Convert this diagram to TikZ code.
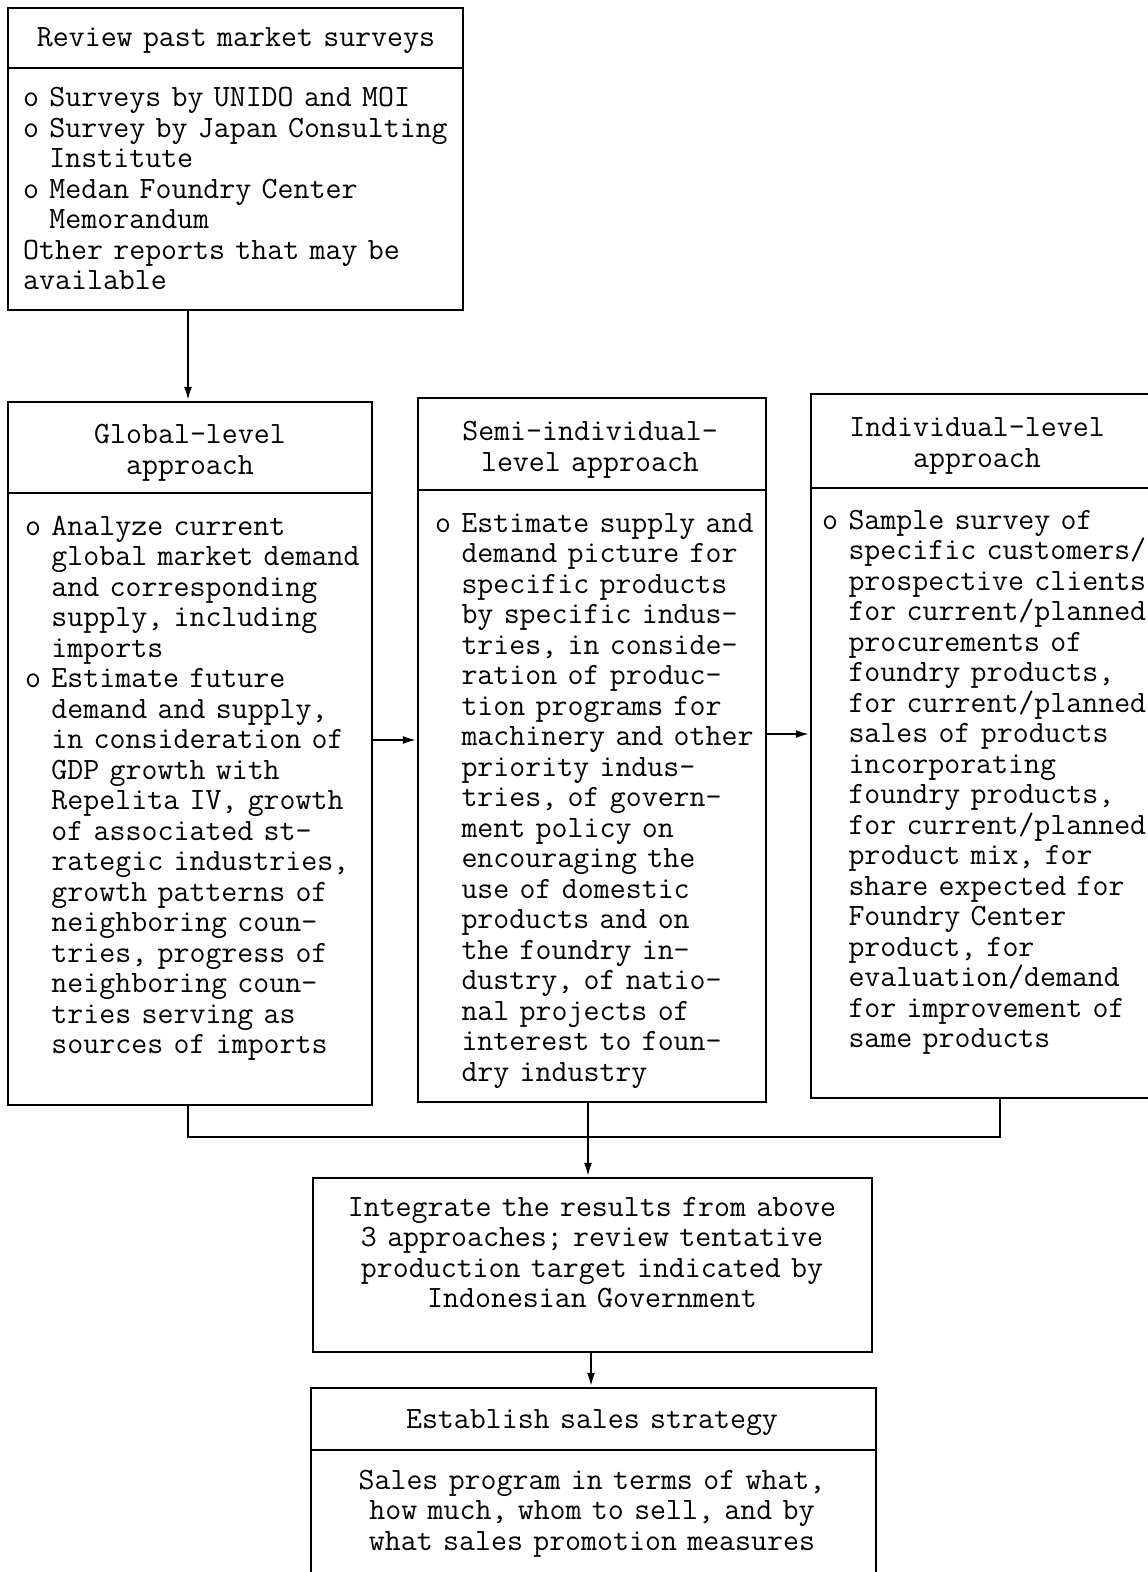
\documentclass[tikz,border=0pt]{standalone}
\usetikzlibrary{arrows.meta,fit}
\begin{document}
\begin{tikzpicture}[x=0.5pt,y=-0.5pt,line width=1.2pt,
  box/.style={draw,rectangle,inner sep=0pt,line width=1.2pt},
  arr/.style={-{Latex[length=7pt,width=4pt]}},
  tt/.style={font=\fontsize{15.5}{15.25}\selectfont\ttfamily,inner sep=0pt},
  body/.style={tt,align=left,text width=#1,anchor=base west},
  head/.style={tt,align=center,text width=#1,anchor=base}]
\fill[white] (0,0) rectangle (1147,1572);
\useasboundingbox (0,0) rectangle (1147,1572);
% boxes
\node[box,fit={(8,8) (463,310)}] (rev) {};
\node[box,fit={(8,402) (372,1105)}] (glob) {};
\node[box,fit={(418,398) (766,1102)}] (semi) {};
\node[box,fit={(811,394) (1165,1098)}] (indiv) {};
\node[box,fit={(313,1178) (872,1352)}] (integ) {};
\node[box,fit={(311,1388) (876,1600)}] (estab) {};
% dividers
\coordinate (d1) at (0,68);
\coordinate (d2) at (0,493);
\coordinate (d3) at (0,490);
\coordinate (d4) at (0,488);
\coordinate (d5) at (0,1450);
\draw (rev.west |- d1) -- (rev.east |- d1);
\draw (glob.west |- d2) -- (glob.east |- d2);
\draw (semi.west |- d3) -- (semi.east |- d3);
\draw (indiv.west |- d4) -- (indiv.east |- d4);
\draw (estab.west |- d5) -- (estab.east |- d5);
% texts
\node[head=220pt] (t1h) at (236,47) {Review past market surveys};
\node[body=240pt] (t1b) at (22,107) {o Surveys by UNIDO and MOI\\
o Survey by Japan Consulting\\
\phantom{o }Institute\\
o Medan Foundry Center\\
\phantom{o }Memorandum\\
Other reports that may be\\
available};
\node[head=170pt] (t2h) at (190,444) {Global-level\\approach};
\node[body=180pt] (t2b) at (24,535) {o Analyze current\\
\phantom{o }global market demand\\
\phantom{o }and corresponding\\
\phantom{o }supply, including\\
\phantom{o }imports\\
o Estimate future\\
\phantom{o }demand and supply,\\
\phantom{o }in consideration of\\
\phantom{o }GDP growth with\\
\phantom{o }Repelita IV, growth\\
\phantom{o }of associated st-\\
\phantom{o }rategic industries,\\
\phantom{o }growth patterns of\\
\phantom{o }neighboring coun-\\
\phantom{o }tries, progress of\\
\phantom{o }neighboring coun-\\
\phantom{o }tries serving as\\
\phantom{o }sources of imports};
\node[head=170pt] (t3h) at (590,441) {Semi-individual-\\level approach};
\node[body=175pt] (t3b) at (434,532) {o Estimate supply and\\
\phantom{o }demand picture for\\
\phantom{o }specific products\\
\phantom{o }by specific indus-\\
\phantom{o }tries, in conside-\\
\phantom{o }ration of produc-\\
\phantom{o }tion programs for\\
\phantom{o }machinery and other\\
\phantom{o }priority indus-\\
\phantom{o }tries, of govern-\\
\phantom{o }ment policy on\\
\phantom{o }encouraging the\\
\phantom{o }use of domestic\\
\phantom{o }products and on\\
\phantom{o }the foundry in-\\
\phantom{o }dustry, of natio-\\
\phantom{o }nal projects of\\
\phantom{o }interest to foun-\\
\phantom{o }dry industry};
\node[head=170pt] (t4h) at (977,437) {Individual-level\\approach};
\node[body=165pt] (t4b) at (821,529) {o Sample survey of\\
\phantom{o }specific customers/\\
\phantom{o }prospective clients\\
\phantom{o }for current/planned\\
\phantom{o }procurements of\\
\phantom{o }foundry products,\\
\phantom{o }for current/planned\\
\phantom{o }sales of products\\
\phantom{o }incorporating\\
\phantom{o }foundry products,\\
\phantom{o }for current/planned\\
\phantom{o }product mix, for\\
\phantom{o }share expected for\\
\phantom{o }Foundry Center\\
\phantom{o }product, for\\
\phantom{o }evaluation/demand\\
\phantom{o }for improvement of\\
\phantom{o }same products};
\node[head=275pt] (t5) at (592,1216) {Integrate the results from above\\
3 approaches; review tentative\\
production target indicated by\\
Indonesian Government};
\node[head=275pt] (t6h) at (592,1428) {Establish sales strategy};
\node[head=275pt] (t6b) at (592,1489) {Sales program in terms of what,\\
how much, whom to sell, and by\\
what sales promotion measures};
% connectors
\coordinate (xa) at (188,0);
\coordinate (xs) at (588,0);
\coordinate (xi) at (1000,0);
\coordinate (xe) at (591,0);
\coordinate (ya) at (0,740);
\coordinate (yb) at (0,734);
\coordinate (ym) at (0,1137);
\draw[arr] (rev.south -| xa) -- (glob.north -| xa);
\draw[arr] (glob.east |- ya) -- (semi.west |- ya);
\draw[arr] (semi.east |- yb) -- (indiv.west |- yb);
\draw (glob.south -| xa) -- (xa |- ym) -- (xi |- ym) -- (indiv.south -| xi);
\draw[arr] (semi.south -| xs) -- (integ.north -| xs);
\draw[arr] (integ.south -| xe) -- (estab.north -| xe);
\end{tikzpicture}
\end{document}
